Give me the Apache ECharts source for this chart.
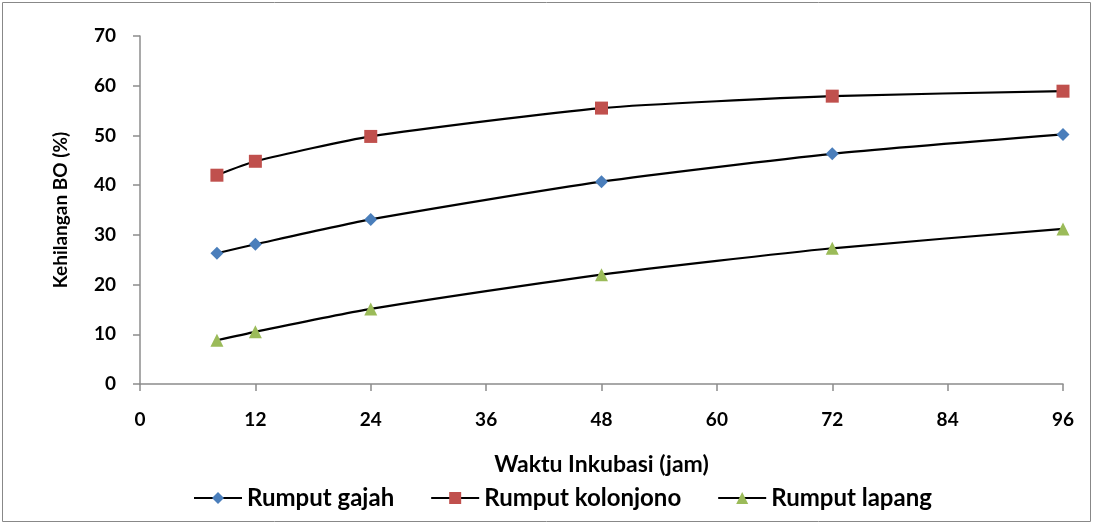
<!DOCTYPE html>
<html><head><meta charset="utf-8">
<script src="https://cdn.jsdelivr.net/npm/echarts@6/dist/echarts.min.js"></script>
<style>html,body{margin:0;padding:0;background:#fff}#c{width:1094px;height:525px}</style>
</head><body><div id="c"></div>
<script>
const hours = [8, 12, 24, 48, 72, 96];
const gajah = [26.3, 28.1, 33.1, 40.7, 46.3, 50.2];
const kolonjono = [42.0, 44.8, 49.8, 55.5, 57.9, 58.9];
const lapang = [8.8, 10.5, 15.1, 22.0, 27.3, 31.2];
const seriesNames = ['Rumput gajah', 'Rumput kolonjono', 'Rumput lapang'];

const font = 'Lato, Open Sans, Liberation Sans, sans-serif';
function pairs(v){ return hours.map((h,i)=>[h, v[i]]); }
function mk(name, data, symbol, color, size){
  return {name, type:'line', data:pairs(data), smooth:0.2, symbol, symbolSize:size,
    showAllSymbol:true,
    lineStyle:{color:'#000', width:2.2}, itemStyle:{color}, emphasis:{disabled:true}};
}
const chart = echarts.init(document.getElementById('c'));
chart.setOption({
  animation:false,
  graphic:[{type:'rect', shape:{x:2.5,y:2.5,width:1088,height:519}, style:{fill:'none', stroke:'#888', lineWidth:1}}],
  grid:{left:140, right:31, top:36, bottom:141},
  xAxis:{type:'value', min:0, max:96, interval:12,
    name:'Waktu Inkubasi (jam)', nameLocation:'middle', nameGap:69,
    nameTextStyle:{fontFamily:font, fontWeight:'bold', fontSize:23, color:'#000'},
    axisLine:{lineStyle:{color:'#8c8c8c', width:1.5}},
    axisTick:{show:true, length:7, lineStyle:{color:'#8c8c8c', width:1.5}},
    axisLabel:{fontFamily:font, fontWeight:'bold', fontSize:19, color:'#000', margin:26},
    splitLine:{show:false}},
  yAxis:{type:'value', min:0, max:70, interval:10,
    name:'Kehilangan BO (%)', nameLocation:'middle', nameGap:70, nameRotate:90,
    nameTextStyle:{fontFamily:font, fontWeight:'bold', fontSize:19, color:'#000'},
    axisLine:{show:true, lineStyle:{color:'#8c8c8c', width:1.5}},
    axisTick:{show:true, length:7, lineStyle:{color:'#8c8c8c', width:1.5}},
    axisLabel:{fontFamily:font, fontWeight:'bold', fontSize:19, color:'#000', margin:24},
    splitLine:{show:false}},
  legend:{top:481, left:188, itemWidth:48, itemHeight:15, itemGap:36,
    textStyle:{fontFamily:font, fontWeight:'bold', fontSize:24, color:'#000'},
    data:seriesNames},
  series:[
    mk(seriesNames[0], gajah, 'diamond', '#4a7ebb', 13),
    mk(seriesNames[1], kolonjono, 'rect', '#c0504d', 13),
    mk(seriesNames[2], lapang, 'triangle', '#9bbb59', 13)
  ]
});
</script></body></html>
